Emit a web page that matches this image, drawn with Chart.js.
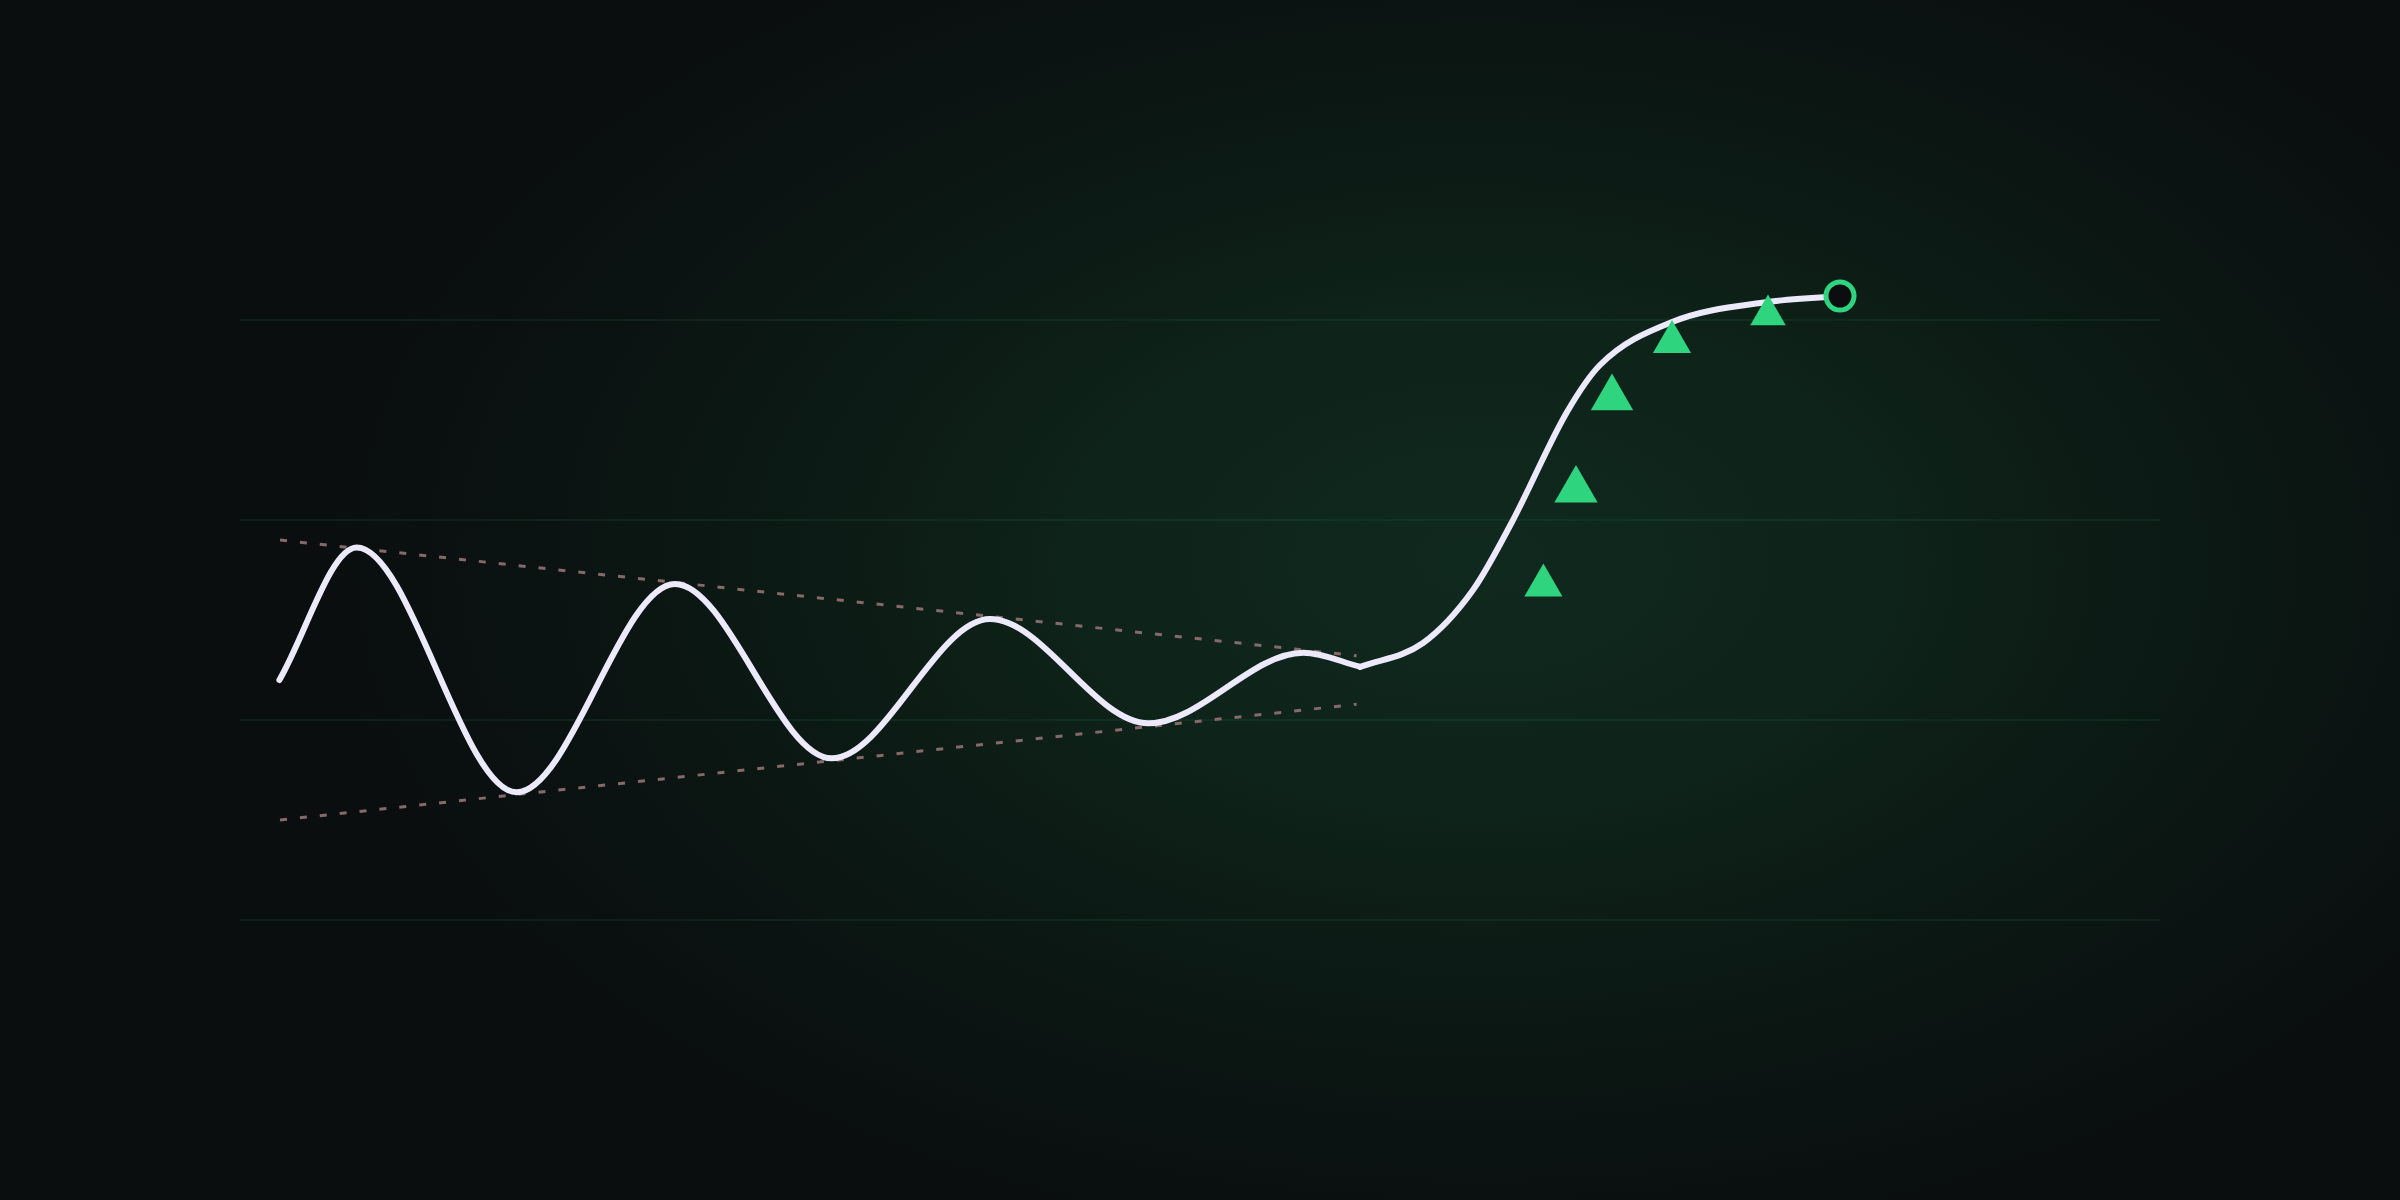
<!DOCTYPE html>
<html>
<head>
<meta charset="utf-8">
<script src="https://cdn.jsdelivr.net/npm/chart.js@4"></script>
<style>
  html, body { margin: 0; padding: 0; }
  body {
    width: 2400px; height: 1200px; overflow: hidden;
    background: radial-gradient(ellipse 1150px 700px at 1480px 560px, #10291f 0%, #0e2319 35%, #0b1713 68%, #0a0e0f 100%);
  }
  #wrap { position: relative; width: 2400px; height: 1200px; }
</style>
</head>
<body>
<div id="wrap"><canvas id="chart"></canvas></div>
<script>
// damped oscillation (peaks / troughs)
const waveX = [1.97, 5.83, 13.83, 21.75, 29.58, 37.5, 45.42, 53.17, 56.0];
const waveY = [44.0, 57.25, 32.77, 53.6, 36.17, 50.1, 39.67, 46.73, 45.33];

// breakout leg
const breakX = [56.0, 59.15, 61.65, 63.6, 66.35, 68.0, 71.6, 76.35, 80.0];
const breakY = [45.3, 47.7, 53.0, 59.8, 70.8, 75.5, 79.8, 81.8, 82.4];

// converging trend lines
const upperX = [2.0, 55.83];
const upperY = [58.0, 46.43];
const lowerX = [2.0, 55.83];
const lowerY = [30.0, 41.57];

// up markers
const markX = [65.17, 66.8, 68.6, 71.6, 76.4];
const markY = [53.45, 63.0, 72.2, 77.8, 80.5];

// end point
const endX = [80.0];
const endY = [82.4];

const gridTicks = [20, 40, 60, 80];

const GREEN = '#2fd47f';
const LINE = '#ece9fb';
const toPts = (xs, ys) => xs.map((x, i) => ({ x, y: ys[i] }));

new Chart(document.getElementById('chart'), {
  type: 'line',
  data: {
    datasets: [
      {
        data: toPts(markX, markY), showLine: false, order: 1,
        pointStyle: 'triangle', pointRadius: [22, 25, 24.5, 22, 20.5],
        pointBackgroundColor: GREEN, pointBorderWidth: 0, pointHoverRadius: 0
      },
      {
        data: toPts(endX, endY), showLine: false, order: 0,
        pointRadius: 14, pointBorderWidth: 5,
        pointBorderColor: GREEN, pointBackgroundColor: '#0b0d10'
      },
      {
        data: toPts(waveX, waveY), order: 2,
        borderColor: LINE, borderWidth: 6, pointRadius: 0,
        cubicInterpolationMode: 'monotone', borderCapStyle: 'round'
      },
      {
        data: toPts(breakX, breakY), order: 2,
        borderColor: LINE, borderWidth: 6, pointRadius: 0,
        cubicInterpolationMode: 'monotone', borderCapStyle: 'round'
      },
      {
        data: toPts(upperX, upperY), order: 3,
        borderColor: '#86696b', borderWidth: 3, borderDash: [7, 13], pointRadius: 0
      },
      {
        data: toPts(lowerX, lowerY), order: 3,
        borderColor: '#86696b', borderWidth: 3, borderDash: [7, 13], pointRadius: 0
      }
    ]
  },
  options: {
    responsive: true, maintainAspectRatio: false, animation: false,
    layout: { padding: { left: 240, right: 240, top: 120, bottom: 80 } },
    plugins: { legend: { display: false }, tooltip: { enabled: false } },
    scales: {
      x: { type: 'linear', min: 0, max: 96, display: false },
      y: {
        min: 0, max: 100,
        afterBuildTicks: axis => { axis.ticks = gridTicks.map(v => ({ value: v })); },
        ticks: { display: false },
        border: { display: false },
        grid: { color: 'rgba(46,212,122,0.08)', lineWidth: 2, drawTicks: false }
      }
    }
  }
});
</script>
</body>
</html>
